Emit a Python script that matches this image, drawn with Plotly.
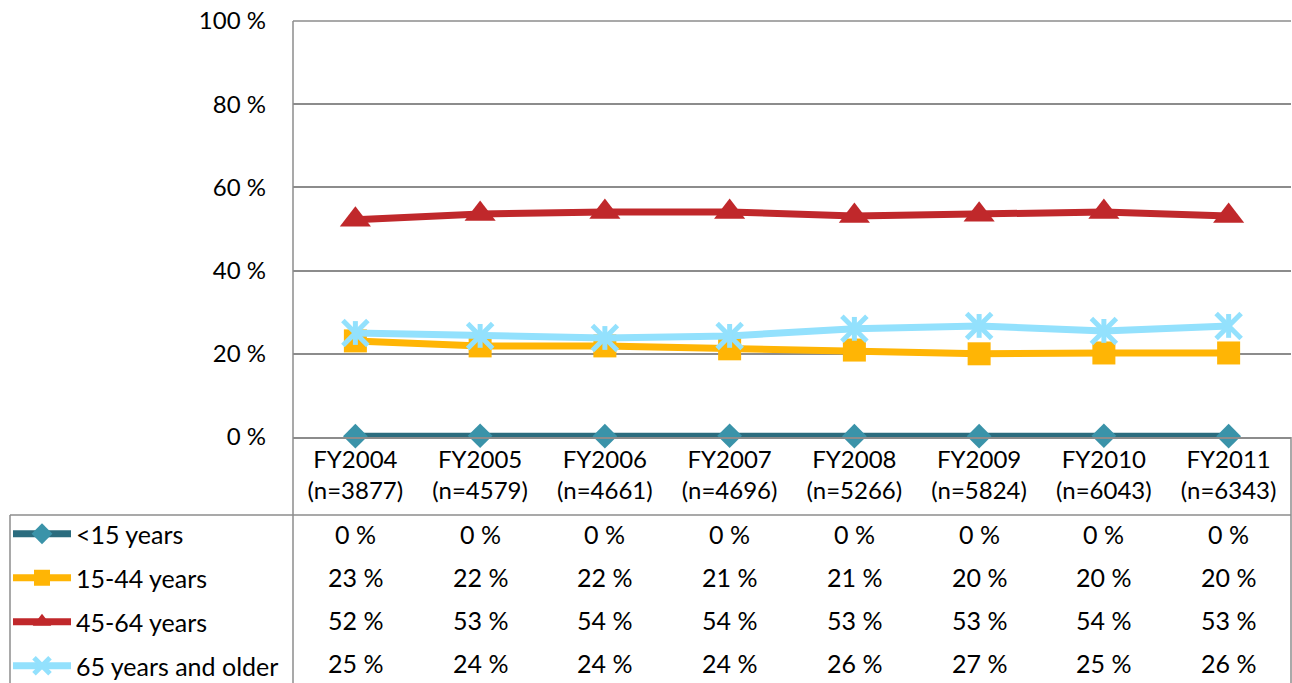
import plotly.graph_objects as go

# ---- data ----
years = ["FY2004", "FY2005", "FY2006", "FY2007", "FY2008", "FY2009", "FY2010", "FY2011"]
counts = ["3877", "4579", "4661", "4696", "5266", "5824", "6043", "6343"]
series_names = ["<15 years", "15-44 years", "45-64 years", "65 years and older"]
under15 = [0.2, 0.3, 0.2, 0.3, 0.2, 0.2, 0.3, 0.2]
age15_44 = [23.1, 21.9, 21.9, 21.2, 20.9, 20.0, 20.2, 20.2]
age45_64 = [52.2, 53.6, 54.1, 54.1, 53.1, 53.4, 54.1, 53.1]
age65plus = [25.0, 24.3, 23.8, 24.3, 26.0, 26.7, 25.5, 26.7]
table_under15 = ["0 %"] * 8
table_15_44 = ["23 %", "22 %", "22 %", "21 %", "21 %", "20 %", "20 %", "20 %"]
table_45_64 = ["52 %", "53 %", "54 %", "54 %", "53 %", "53 %", "54 %", "53 %"]
table_65plus = ["25 %", "24 %", "24 %", "24 %", "26 %", "27 %", "25 %", "26 %"]
y_ticks = [0, 20, 40, 60, 80, 100]

FONT = "Lato"
W, H = 1292, 683
L, R, T, B = 293, 1, 21, 246
PW = W - L - R
PH = H - T - B

def px_x(x):
    return (x - L) / PW

def px_y(y):
    return (H - B - y) / PH

cats = [f"{y}<br>(n={c})" for y, c in zip(years, counts)]
xs = list(range(len(years)))

fig = go.Figure()
fig.add_trace(go.Scatter(
    x=xs, y=under15, name=series_names[0], mode="lines+markers", legendgroup="a",
    line=dict(color="#2B6C7E", width=7),
    marker=dict(symbol="diamond", size=19, color="#3A93A9")))
fig.add_trace(go.Scatter(
    x=xs, y=age15_44, name=series_names[1], mode="lines+markers", legendgroup="b",
    line=dict(color="#FFB505", width=7),
    marker=dict(symbol="square", size=23, color="#FFB505")))
fig.add_trace(go.Scatter(
    x=xs, y=age45_64, name=series_names[2], mode="lines+markers", legendgroup="c",
    line=dict(color="#C0282B", width=7),
    marker=dict(symbol="triangle-up", size=27, color="#C0282B")))
fig.add_trace(go.Scatter(
    x=xs, y=age65plus, name=series_names[3], mode="lines+markers", legendgroup="d",
    line=dict(color="#93E1FD", width=7),
    marker=dict(symbol="x-thin-open", size=25, color="#93E1FD",
                line=dict(color="#93E1FD", width=5))))
fig.add_trace(go.Scatter(
    x=xs, y=age65plus, name=series_names[3], mode="markers", legendgroup="d",
    showlegend=False,
    marker=dict(symbol="line-ns-open", size=17, color="#93E1FD",
                line=dict(color="#93E1FD", width=5))))

# table cells
rows = [table_under15, table_15_44, table_45_64, table_65plus]
row_centers = [534, 577, 620, 663]
for vals, yc in zip(rows, row_centers):
    for i, v in enumerate(vals):
        fig.add_annotation(x=xs[i], y=px_y(yc), xref="x", yref="paper", text=v,
                           showarrow=False, font=dict(family=FONT, size=25, color="#000000"),
                           xanchor="center", yanchor="middle")

line_col = "#8C8C8C"
shapes = [
    dict(type="line", xref="paper", yref="paper", x0=px_x(10), x1=1, y0=px_y(515), y1=px_y(515)),
    dict(type="line", xref="paper", yref="paper", x0=px_x(10), x1=px_x(10), y0=px_y(515), y1=px_y(H)),
    dict(type="line", xref="paper", yref="paper", x0=0, x1=0, y0=1, y1=px_y(H)),
    dict(type="line", xref="paper", yref="paper", x0=1, x1=1, y0=0, y1=px_y(H)),
    dict(type="line", xref="paper", yref="paper", x0=0, x1=1, y0=1, y1=1),
]
for s in shapes:
    s["line"] = dict(color=line_col, width=1.5)
    s["layer"] = "below"
fig.update_layout(shapes=shapes)

fig.update_layout(
    width=W, height=H,
    margin=dict(l=L, r=R, t=T, b=B, pad=0, autoexpand=False),
    paper_bgcolor="white", plot_bgcolor="white",
    font=dict(family=FONT, size=24, color="#000000"),
    showlegend=True,
    legend=dict(x=px_x(8), xanchor="left", y=px_y(511), yanchor="top",
                font=dict(family=FONT, size=25, color="#000000"),
                bgcolor="rgba(0,0,0,0)", itemwidth=58, tracegroupgap=8.5,
                traceorder="grouped", itemclick=False),
    xaxis=dict(range=[-0.5, 7.5], tickmode="array", tickvals=xs, ticktext=cats,
               showgrid=False, zeroline=False, showline=True, linecolor=line_col,
               linewidth=1.5, ticks="", tickfont=dict(family=FONT, size=24, color="#000000")),
    yaxis=dict(range=[0, 100], tickmode="array", tickvals=y_ticks,
               ticktext=[f"{v} %" for v in y_ticks], showgrid=True, gridcolor=line_col,
               gridwidth=1.5, zeroline=False, showline=False, ticks="",
               ticklabelstandoff=26,
               tickfont=dict(family=FONT, size=24, color="#000000")),
)
for tr in fig.data:
    tr.cliponaxis = False

fig.write_html("out.html", config={"displayModeBar": False},
               post_script="document.body.style.margin='0';document.body.style.overflow='hidden';")
